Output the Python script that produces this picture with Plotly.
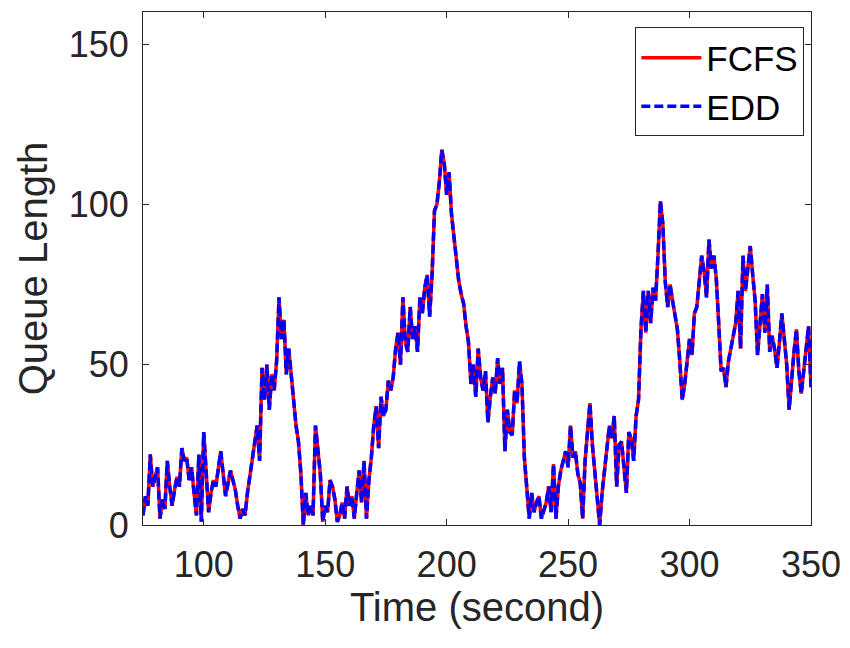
import plotly.graph_objects as go

# time axis, one sample per second
time_s = list(range(75, 351))

# queue length (FCFS and EDD overlap almost exactly)
fcfs_queue = [
    3, 9, 6, 22, 12, 15, 18, 2, 8, 5,
    20, 12, 6, 11, 15, 12, 24, 20, 21, 14,
    18, 10, 3, 22, 1, 29, 14, 4, 10, 14,
    12, 18, 23, 16, 9, 13, 17, 14, 11, 6,
    2, 5, 3, 10, 15, 21, 26, 31, 20, 49,
    39, 50, 36, 47, 42, 51, 71, 58, 64, 47,
    55, 48, 39, 31, 26, 16, 0, 10, 3, 6,
    3, 31, 22, 16, 1, 6, 4, 14, 12, 8,
    1, 3, 7, 2, 12, 6, 9, 2, 10, 17,
    7, 20, 2, 14, 21, 31, 37, 24, 40, 34,
    36, 45, 42, 46, 55, 60, 50, 71, 57, 54,
    68, 58, 62, 54, 71, 66, 74, 78, 65, 78,
    98, 100, 107, 117, 113, 103, 110, 97, 90, 83,
    76, 72, 69, 62, 57, 44, 50, 40, 55, 46,
    42, 48, 32, 40, 46, 41, 52, 44, 49, 23,
    36, 29, 28, 42, 38, 51, 44, 21, 12, 2,
    10, 4, 7, 9, 2, 5, 7, 12, 4, 19,
    2, 12, 17, 20, 23, 18, 31, 21, 23, 16,
    13, 2, 20, 29, 38, 25, 17, 8, 0, 10,
    17, 25, 31, 27, 34, 12, 25, 26, 17, 10,
    29, 27, 20, 34, 39, 61, 73, 60, 73, 63,
    74, 70, 84, 101, 94, 76, 68, 75, 70, 66,
    61, 51, 39, 44, 50, 58, 53, 66, 68, 77,
    84, 79, 71, 89, 80, 84, 77, 63, 48, 49,
    43, 51, 55, 60, 63, 73, 55, 84, 73, 80,
    87, 78, 70, 53, 63, 72, 60, 75, 54, 59,
    55, 49, 57, 66, 58, 50, 36, 46, 54, 61,
    48, 41, 49, 55, 62, 43,
]
edd_queue = list(fcfs_queue)

x_ticks = [100, 150, 200, 250, 300, 350]
y_ticks = [0, 50, 100, 150]

FONT = "Liberation Sans, Arial, Helvetica, sans-serif"
INK = "#262626"

fig = go.Figure()
fig.add_trace(go.Scatter(x=time_s, y=fcfs_queue, mode="lines", name="FCFS",
                         line=dict(color="#ff0000", width=3.5)))
fig.add_trace(go.Scatter(x=time_s, y=edd_queue, mode="lines", name="EDD",
                         line=dict(color="#0000ff", width=3.5, dash="9px,4px")))

axis_style = dict(
    showline=True, linecolor=INK, linewidth=1, mirror="ticks",
    ticks="inside", ticklen=6, tickcolor=INK, tickwidth=1,
    showgrid=False, zeroline=False,
    tickfont=dict(family=FONT, size=36, color=INK),
)

fig.update_xaxes(range=[75, 350], tickvals=x_ticks, ticklabelstandoff=8,
                 title=dict(text="Time (second)", standoff=0,
                            font=dict(family=FONT, size=40, color=INK)),
                 **axis_style)
fig.update_yaxes(range=[0, 160], tickvals=y_ticks, ticklabelstandoff=6,
                 title=dict(text="Queue Length", standoff=8,
                            font=dict(family=FONT, size=40, color=INK)),
                 **axis_style)

# the page body adds an 8px offset, so margins are shifted by that amount
fig.update_layout(
    width=850, height=648,
    margin=dict(l=135, r=47, t=4, b=131, autoexpand=False),
    paper_bgcolor="white", plot_bgcolor="white",
    font=dict(family=FONT, color=INK),
    legend=dict(x=0.99, y=0.97, xanchor="right", yanchor="top",
                bgcolor="white", bordercolor=INK, borderwidth=1,
                font=dict(family=FONT, size=35, color="#000000"),
                itemwidth=60, tracegroupgap=0),
    showlegend=True,
)

fig.write_html("out.html")
